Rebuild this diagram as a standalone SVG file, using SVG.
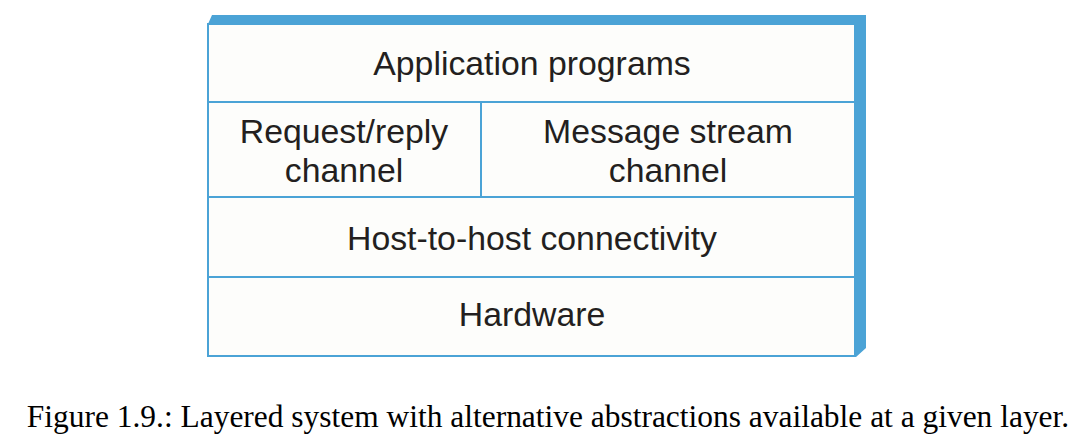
<svg xmlns="http://www.w3.org/2000/svg" width="1078" height="438" viewBox="0 0 1078 438">
<style>
.cell{fill:#fdfdfb;stroke:#4ba3d6;stroke-width:2}
.ext{fill:#4ba3d6;stroke:none}
.lbl{font-family:"Liberation Sans",Arial,sans-serif;font-size:33.8px;fill:#231f20;text-anchor:middle}
.cap{font-family:"Liberation Serif","Times New Roman",serif;font-size:31.45px;fill:#000;text-anchor:middle}
</style>
<rect width="1078" height="438" fill="#ffffff"/>
<g id="extrusion">
<polygon class="ext" points="208,24 212,15 866,15 866,348 856,357 855,24"/>
</g>
<g id="app"><rect class="cell" x="208" y="24" width="647" height="78"/><text class="lbl" x="532" y="75">Application programs</text></g>
<g id="reqrep"><rect class="cell" x="208" y="102" width="273" height="95"/><text class="lbl" x="344" y="143">Request/reply</text><text class="lbl" x="344" y="182">channel</text></g>
<g id="msgstream"><rect class="cell" x="481" y="102" width="374" height="95"/><text class="lbl" x="668" y="143">Message stream</text><text class="lbl" x="668" y="182">channel</text></g>
<g id="host"><rect class="cell" x="208" y="197" width="647" height="80"/><text class="lbl" x="532" y="250">Host-to-host connectivity</text></g>
<g id="hw"><rect class="cell" x="208" y="277" width="647" height="79"/><text class="lbl" x="532" y="326">Hardware</text></g>
<g id="connectors"></g>
<text class="cap" x="548" y="427">Figure 1.9.: Layered system with alternative abstractions available at a given layer.</text>
</svg>
